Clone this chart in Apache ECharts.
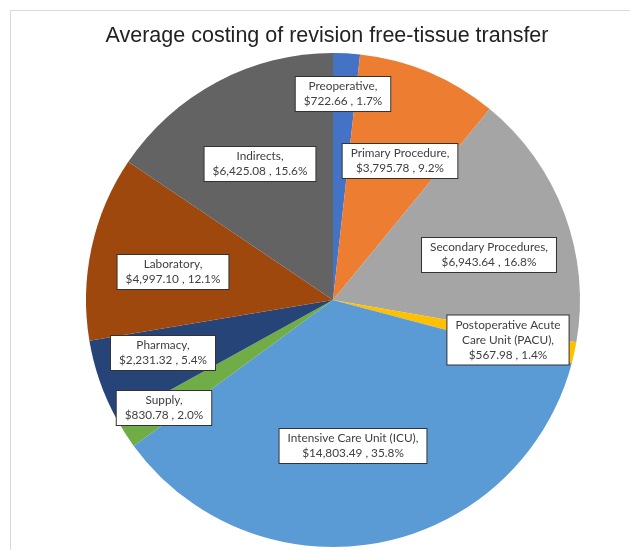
<!DOCTYPE html>
<html>
<head>
<meta charset="utf-8">
<script src="https://cdn.jsdelivr.net/npm/echarts@6/dist/echarts.min.js"></script>
<style>
  html, body { margin: 0; padding: 0; background: #fff; }
  #chart { width: 630px; height: 550px; }
</style>
</head>
<body>
<div id="chart"></div>
<script>
const categories = [
  'Preoperative',
  'Primary Procedure',
  'Secondary Procedures',
  'Postoperative Acute\nCare Unit (PACU)',
  'Intensive Care Unit (ICU)',
  'Supply',
  'Pharmacy',
  'Laboratory',
  'Indirects'
]
const costs = [722.66, 3795.78, 6943.64, 567.98, 14803.49, 830.78, 2231.32, 4997.10, 6425.08]
const colors = ['#4472C4', '#ED7D31', '#A5A5A5', '#FFC000', '#5B9BD5', '#70AD47', '#264478', '#9E480E', '#636363']

// label box centres (px), like Excel's manual placement
const labelPos = [
  [343, 94], [400, 161], [489, 255], [508, 340], [353, 446],
  [164, 408], [163, 353], [173, 272], [260, 164]
]

const total = costs.reduce((a, b) => a + b, 0)
const chart = echarts.init(document.getElementById('chart'))

const option = {
  backgroundColor: '#fff',
  title: {
    text: 'Average costing of revision free-tissue transfer',
    left: 326,
    top: 20,
    textAlign: 'center',
    textStyle: {
      fontFamily: 'Liberation Sans',
      fontWeight: 'normal',
      fontSize: 21.5,
      color: '#222'
    }
  },
  graphic: [
    {
      type: 'rect',
      shape: { x: 10.5, y: 10.5, width: 700, height: 700 },
      style: { fill: 'none', stroke: '#d9d9d9', lineWidth: 1 },
      silent: true
    }
  ],
  series: [
    {
      type: 'pie',
      center: [333, 300],
      radius: 247,
      startAngle: 90,
      clockwise: true,
      avoidLabelOverlap: false,
      data: categories.map((name, i) => ({
        name: name,
        value: costs[i],
        itemStyle: { color: colors[i] }
      })),
      itemStyle: { borderWidth: 0 },
      label: {
        show: true,
        position: 'inside',
        formatter: function(p) {
          const money = '$' + p.value.toLocaleString('en-US', { minimumFractionDigits: 2, maximumFractionDigits: 2 })
          const pct = (p.value / total * 100).toFixed(1)
          return p.name + ',\n' + money + ' , ' + pct + '%'
        },
        fontFamily: 'Lato',
        fontSize: 11.8,
        lineHeight: 15,
        color: '#404040',
        backgroundColor: '#fff',
        borderColor: '#333',
        borderWidth: 1,
        padding: [2, 8],
        align: 'center'
      },
      labelLine: { show: false },
      labelLayout: function(params) {
        const pos = labelPos[params.dataIndex]
        return { x: pos[0], y: pos[1], align: 'center', verticalAlign: 'middle' }
      },
      emphasis: { disabled: true }
    }
  ]
}
option.title.left = 322

chart.setOption(option)
</script>
</body>
</html>
